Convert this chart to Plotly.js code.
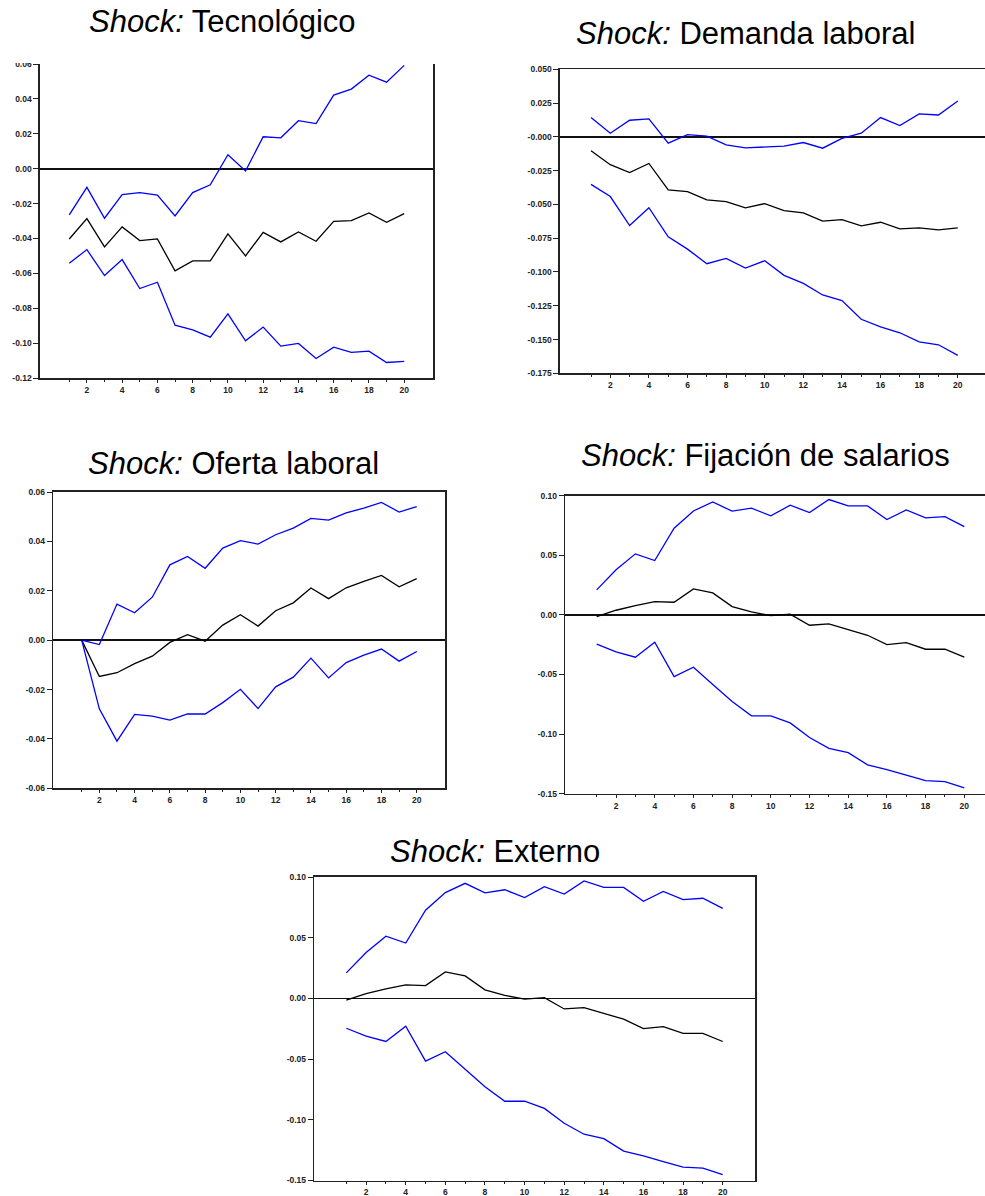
<!DOCTYPE html>
<html>
<head>
<meta charset="utf-8">
<script src="https://cdn.plot.ly/plotly-3.0.1.min.js"></script>
<style>html,body{margin:0;padding:0;background:#fff;}#chart{width:985px;height:1196px;}</style>
</head>
<body>
<div id="chart"></div>
<script>
// Horizon (periods)
const periods = [1,2,3,4,5,6,7,8,9,10,11,12,13,14,15,16,17,18,19,20];
const xTickVals = [2,4,6,8,10,12,14,16,18,20];
const xTickText = ["2","4","6","8","10","12","14","16","18","20"];
const xMinorVals = [1,3,5,7,9,11,13,15,17,19];

// Titles
const titles = ["Tecnológico", "Demanda laboral", "Oferta laboral", "Fijación de salarios", "Externo"];

// Shock: Tecnológico
const tecUpper = [-0.0265,-0.0107,-0.0284,-0.0149,-0.0137,-0.0151,-0.0271,-0.0137,-0.0092,0.0080,-0.0013,0.0183,0.0177,0.0275,0.0258,0.0422,0.0456,0.0536,0.0496,0.0592];
const tecMid   = [-0.0403,-0.0286,-0.0448,-0.0334,-0.0412,-0.0403,-0.0586,-0.0529,-0.0529,-0.0374,-0.0500,-0.0365,-0.0420,-0.0363,-0.0416,-0.0302,-0.0298,-0.0254,-0.0307,-0.0258];
const tecLower = [-0.0542,-0.0464,-0.0613,-0.0521,-0.0687,-0.0651,-0.0897,-0.0924,-0.0966,-0.0832,-0.0987,-0.0908,-0.1017,-0.1002,-0.1088,-0.1023,-0.1053,-0.1046,-0.1111,-0.1105];
const tecYTicks = [-0.12,-0.10,-0.08,-0.06,-0.04,-0.02,0.00,0.02,0.04,0.06];
const tecYText  = ["-0.12","-0.10","-0.08","-0.06","-0.04","-0.02","0.00","0.02","0.04","0.06"];

// Shock: Demanda laboral
const demUpper = [0.0143,0.0027,0.0123,0.0133,-0.0047,0.0017,0.0005,-0.0059,-0.0081,-0.0074,-0.0069,-0.0042,-0.0084,-0.0012,0.0027,0.0143,0.0084,0.0170,0.0162,0.0265];
const demMid   = [-0.0103,-0.0206,-0.0265,-0.0197,-0.0393,-0.0406,-0.0467,-0.0479,-0.0526,-0.0494,-0.0546,-0.0563,-0.0624,-0.0612,-0.0659,-0.0632,-0.0681,-0.0674,-0.0688,-0.0674];
const demLower = [-0.0352,-0.0442,-0.0656,-0.0524,-0.0740,-0.0831,-0.0939,-0.0900,-0.0971,-0.0917,-0.1025,-0.1084,-0.1170,-0.1212,-0.1350,-0.1406,-0.1450,-0.1517,-0.1539,-0.1617];
const demYTicks = [-0.175,-0.150,-0.125,-0.100,-0.075,-0.050,-0.025,0.000,0.025,0.050];
const demYText  = ["-0.175","-0.150","-0.125","-0.100","-0.075","-0.050","-0.025","-0.000","0.025","0.050"];

// Shock: Oferta laboral
const ofeUpper = [0.0000,-0.0018,0.0146,0.0111,0.0174,0.0305,0.0339,0.0291,0.0373,0.0403,0.0389,0.0427,0.0454,0.0493,0.0486,0.0515,0.0535,0.0558,0.0519,0.0541];
const ofeMid   = [0.0000,-0.0147,-0.0132,-0.0095,-0.0065,-0.0009,0.0022,-0.0004,0.0061,0.0103,0.0057,0.0119,0.0151,0.0211,0.0168,0.0212,0.0238,0.0262,0.0216,0.0249];
const ofeLower = [0.0000,-0.0278,-0.0409,-0.0301,-0.0308,-0.0324,-0.0299,-0.0299,-0.0253,-0.0199,-0.0277,-0.0189,-0.0150,-0.0073,-0.0153,-0.0091,-0.0061,-0.0036,-0.0085,-0.0046];
const ofeYTicks = [-0.06,-0.04,-0.02,0.00,0.02,0.04,0.06];
const ofeYText  = ["-0.06","-0.04","-0.02","0.00","0.02","0.04","0.06"];

// Shock: Fijación de salarios
const fijUpper = [0.0210,0.0378,0.0512,0.0456,0.0727,0.0872,0.0948,0.0870,0.0895,0.0831,0.0920,0.0859,0.0968,0.0914,0.0914,0.0800,0.0881,0.0814,0.0825,0.0741];
const fijMid   = [-0.0014,0.0039,0.0078,0.0112,0.0106,0.0218,0.0185,0.0070,0.0025,-0.0006,0.0006,-0.0087,-0.0076,-0.0123,-0.0171,-0.0249,-0.0232,-0.0288,-0.0288,-0.0355];
const fijLower = [-0.0246,-0.0310,-0.0355,-0.0229,-0.0517,-0.0439,-0.0584,-0.0727,-0.0847,-0.0847,-0.0906,-0.1029,-0.1119,-0.1155,-0.1258,-0.1298,-0.1345,-0.1390,-0.1398,-0.1451];
const fijYTicks = [-0.15,-0.10,-0.05,0.00,0.05,0.10];
const fijYText  = ["-0.15","-0.10","-0.05","0.00","0.05","0.10"];

// Shock: Externo
const extUpper = [0.0210,0.0378,0.0512,0.0456,0.0727,0.0872,0.0948,0.0870,0.0895,0.0831,0.0920,0.0859,0.0968,0.0914,0.0914,0.0800,0.0881,0.0814,0.0825,0.0741];
const extMid   = [-0.0014,0.0039,0.0078,0.0112,0.0106,0.0218,0.0185,0.0070,0.0025,-0.0006,0.0006,-0.0087,-0.0076,-0.0123,-0.0171,-0.0249,-0.0232,-0.0288,-0.0288,-0.0355];
const extLower = [-0.0246,-0.0310,-0.0355,-0.0229,-0.0517,-0.0439,-0.0584,-0.0727,-0.0847,-0.0847,-0.0906,-0.1029,-0.1119,-0.1155,-0.1258,-0.1298,-0.1345,-0.1390,-0.1398,-0.1451];
const extYTicks = [-0.15,-0.10,-0.05,0.00,0.05,0.10];
const extYText  = ["-0.15","-0.10","-0.05","0.00","0.05","0.10"];

const W = 985, H = 1196;
const px = v => v / W;
const py = v => 1 - v / H;

// panel geometry in pixels: [left, right, top, bottom], x range, y range, mirrors
const panels = [
  {box:[40,433.3,64,378], xr:[-0.66,21.65], yr:[-0.12,0.06], up:tecUpper, mid:tecMid, lo:tecLower, yt:tecYTicks, ytt:tecYText, mx:false, my:true, title:[222.5,22]},
  {box:[560,985,69.3,373.3], xr:[-0.606,21.41], yr:[-0.175,0.05], up:demUpper, mid:demMid, lo:demLower, yt:demYTicks, ytt:demYText, mx:true, my:false, title:[745,33]},
  {box:[53.3,445.3,492,788.3], xr:[-0.611,21.62], yr:[-0.06,0.06], up:ofeUpper, mid:ofeMid, lo:ofeLower, yt:ofeYTicks, ytt:ofeYText, mx:true, my:true, title:[233,463]},
  {box:[565.3,985,495.7,793.7], xr:[-0.623,21.07], yr:[-0.15,0.10], up:fijUpper, mid:fijMid, lo:fijLower, yt:fijYTicks, ytt:fijYText, mx:true, my:false, title:[765,456]},
  {box:[314.3,755,877,1180.5], xr:[-0.615,21.63], yr:[-0.15,0.10], up:extUpper, mid:extMid, lo:extLower, yt:extYTicks, ytt:extYText, mx:true, my:true, title:[495,851]}
];

const tickFont = {family:'Arial, "Liberation Sans", sans-serif', size:8.5, color:'#222', weight:'bold'};
const traces = [];
const layout = {
  width:W, height:H, margin:{l:0,r:0,t:0,b:0},
  paper_bgcolor:'#fff', plot_bgcolor:'#fff', showlegend:false,
  annotations:[], shapes:[]
};

panels.forEach((p, i) => {
  const n = i + 1;
  const xa = 'x' + (n === 1 ? '' : n), ya = 'y' + (n === 1 ? '' : n);
  const xk = 'xaxis' + (n === 1 ? '' : n), yk = 'yaxis' + (n === 1 ? '' : n);
  [[p.up,'#0000ff'],[p.mid,'#000000'],[p.lo,'#0000ff']].forEach(([ys,c]) => {
    traces.push({x:periods, y:ys, xaxis:xa, yaxis:ya, type:'scatter', mode:'lines',
      line:{color:c, width:1.3}, hoverinfo:'skip'});
  });
  layout[xk] = {
    domain:[px(p.box[0]), Math.min(1, px(p.box[1]))], anchor:ya, range:p.xr,
    showgrid:false, zeroline:false, showline:true, linecolor:'#222', linewidth:1.6, mirror:p.mx,
    tickmode:'array', tickvals:xTickVals, ticktext:xTickText, ticks:'outside', ticklen:3, tickwidth:1, tickcolor:'#222',
    minor:{tickmode:'array', tickvals:xMinorVals, ticks:'outside', ticklen:2, tickwidth:1, tickcolor:'#222'},
    tickfont:tickFont, fixedrange:true
  };
  layout[yk] = {
    domain:[py(p.box[3]), py(p.box[2])], anchor:xa, range:p.yr,
    showgrid:false, zeroline:true, zerolinecolor:'#111', zerolinewidth:1.8,
    showline:true, linecolor:'#222', linewidth:1.6, mirror:p.my,
    tickmode:'array', tickvals:p.yt, ticktext:p.ytt, ticks:'outside', ticklen:5, tickwidth:1, tickcolor:'#222',
    tickfont:tickFont, fixedrange:true
  };
  layout.annotations.push({
    xref:'paper', yref:'paper', x:px(p.title[0]), y:py(p.title[1]), xanchor:'center', yanchor:'middle',
    showarrow:false, text:'<i>Shock:</i> ' + titles[i],
    font:{family:'Arial, "Liberation Sans", sans-serif', size:31, color:'#000'}
  });
});

// cropped top of the first panel (top label is cut in the source)
layout.shapes.push({type:'rect', xref:'paper', yref:'paper', layer:'above',
  x0:0, x1:px(38), y0:py(63), y1:py(45), fillcolor:'#fff', line:{width:0}});

Plotly.newPlot('chart', traces, layout, {displayModeBar:false, staticPlot:true});
</script>
</body>
</html>
